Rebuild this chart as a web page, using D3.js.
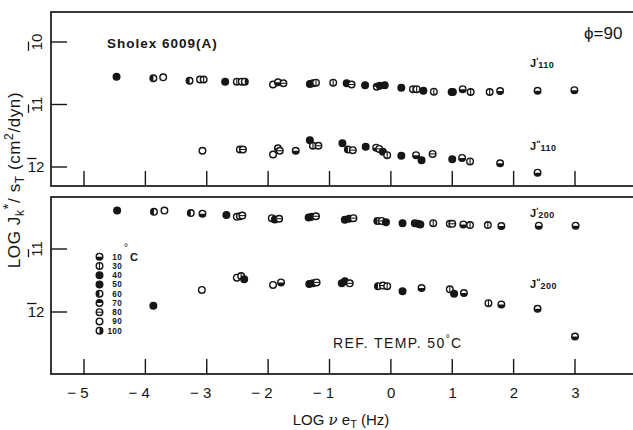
<!DOCTYPE html>
<html>
<head>
<meta charset="utf-8">
<script src="https://cdn.jsdelivr.net/npm/d3@7"></script>
<style>
  body { margin: 0; background: #fff; }
  svg { display: block; }
  text { font-family: "Liberation Sans", Arial, sans-serif; fill: #161616; }
</style>
</head>
<body>
<div id="chart"></div>
<script>
// log frequency ticks, legend temperatures (deg C)
const xTicks = [-5, -4, -3, -2, -1, 0, 1, 2, 3];
const temps = [10, 30, 40, 50, 60, 70, 80, 90, 100];

// [log nu*aT, log Jk*/aT, temperature]
const jp110 = [
  [-4.47, -10.555, 40], [-3.87, -10.58, 60], [-3.71, -10.565, 90],
  [-3.28, -10.62, 60], [-3.11, -10.60, 90], [-3.05, -10.60, 30],
  [-2.70, -10.635, 40], [-2.51, -10.635, 30], [-2.43, -10.635, 90], [-2.38, -10.635, 100],
  [-1.92, -10.68, 90], [-1.84, -10.645, 10], [-1.75, -10.66, 80],
  [-1.32, -10.67, 50], [-1.27, -10.66, 60], [-1.22, -10.65, 30],
  [-0.94, -10.65, 30], [-0.72, -10.66, 50], [-0.64, -10.68, 80],
  [-0.42, -10.69, 40], [-0.23, -10.715, 70], [-0.18, -10.70, 50], [-0.10, -10.69, 40],
  [0.17, -10.73, 50], [0.36, -10.755, 30], [0.42, -10.755, 30], [0.53, -10.78, 50],
  [0.70, -10.795, 30], [0.99, -10.80, 50], [1.01, -10.80, 40], [1.17, -10.755, 10],
  [1.30, -10.80, 30], [1.61, -10.80, 30], [1.78, -10.785, 10], [2.39, -10.78, 10], [2.99, -10.77, 10]
];
const jpp110 = [
  [-3.07, -11.74, 90], [-2.46, -11.72, 30], [-2.41, -11.72, 80],
  [-1.92, -11.80, 90], [-1.84, -11.70, 10], [-1.81, -11.74, 80], [-1.55, -11.74, 10],
  [-1.32, -11.57, 40], [-1.27, -11.66, 30], [-1.18, -11.66, 80],
  [-0.79, -11.62, 50], [-0.70, -11.72, 60], [-0.62, -11.73, 80],
  [-0.41, -11.675, 40], [-0.24, -11.69, 10], [-0.19, -11.71, 80], [-0.13, -11.755, 40], [-0.06, -11.81, 30],
  [0.17, -11.82, 50], [0.41, -11.81, 10], [0.50, -11.89, 40], [0.68, -11.79, 80],
  [1.00, -11.875, 50], [1.16, -11.855, 10], [1.29, -11.91, 30], [1.78, -11.94, 10], [2.39, -12.09, 10]
];
const jp200 = [
  [-4.46, -10.39, 40], [-3.86, -10.41, 60], [-3.69, -10.39, 90],
  [-3.26, -10.43, 60], [-3.07, -10.44, 10],
  [-2.68, -10.46, 40], [-2.51, -10.49, 90], [-2.46, -10.48, 30], [-2.42, -10.47, 80],
  [-1.94, -10.51, 90], [-1.89, -10.53, 50], [-1.82, -10.52, 80],
  [-1.34, -10.50, 50], [-1.29, -10.49, 40], [-1.22, -10.48, 80],
  [-0.75, -10.535, 50], [-0.68, -10.52, 40], [-0.61, -10.51, 80],
  [-0.22, -10.555, 60], [-0.15, -10.555, 80], [-0.08, -10.575, 40],
  [0.19, -10.59, 50], [0.39, -10.59, 60], [0.44, -10.60, 40], [0.48, -10.61, 50],
  [0.69, -10.59, 30], [0.96, -10.60, 30], [1.00, -10.60, 80], [1.18, -10.61, 10], [1.29, -10.62, 30],
  [1.58, -10.62, 30], [1.80, -10.635, 10], [2.41, -10.63, 10], [3.01, -10.63, 10]
];
const jpp200 = [
  [-3.87, -11.90, 40], [-3.08, -11.65, 90],
  [-2.51, -11.455, 90], [-2.44, -11.43, 30], [-2.39, -11.48, 50],
  [-1.92, -11.57, 90], [-1.79, -11.53, 10],
  [-1.33, -11.555, 40], [-1.27, -11.545, 50], [-1.21, -11.53, 80],
  [-0.80, -11.545, 50], [-0.75, -11.51, 40], [-0.67, -11.545, 80],
  [-0.21, -11.59, 60], [-0.13, -11.58, 80], [-0.06, -11.59, 30],
  [0.19, -11.67, 50], [0.50, -11.62, 10], [0.96, -11.64, 30], [1.03, -11.71, 40],
  [1.19, -11.70, 10], [1.59, -11.86, 30], [1.80, -11.88, 10], [2.39, -11.95, 10], [3.00, -12.39, 10]
];

const size = { width: 633, height: 430 };
const ink = "#161616";
const frameLeft = 51;

const x = d3.scaleLinear([-5, 3], [84, 575]);

const panels = [
  {
    top: 12, bottom: 186,
    y: d3.scaleLinear([-10, -12], [42, 167]),
    yTicks: [-10, -11, -12],
    series: [
      { data: jp110, prime: "\u02B9", sub: "110", ly: 67 },
      { data: jpp110, prime: "\u02BA", sub: "110", ly: 150 }
    ]
  },
  {
    top: 197, bottom: 374,
    y: d3.scaleLinear([-11, -12], [249, 312]),
    yTicks: [-11, -12],
    series: [
      { data: jp200, prime: "\u02B9", sub: "200", ly: 217 },
      { data: jpp200, prime: "\u02BA", sub: "200", ly: 288 }
    ]
  }
];

const markerKind = {
  10: "bottom", 30: "vline", 40: "full", 50: "full", 60: "left",
  70: "top", 80: "hline", 90: "open", 100: "right"
};

function drawMarker(g, cx, cy, t) {
  const r = 3.3;
  const kind = markerKind[t];
  const m = g.append("g").attr("transform", `translate(${cx},${cy})`);
  m.append("circle")
    .attr("r", r)
    .attr("fill", kind === "full" ? ink : "#fff")
    .attr("stroke", ink)
    .attr("stroke-width", 1.4);
  const half = {
    bottom: `M${-r},0A${r},${r} 0 0 0 ${r},0Z`,
    top: `M${-r},0A${r},${r} 0 0 1 ${r},0Z`,
    left: `M0,${-r}A${r},${r} 0 0 0 0,${r}Z`,
    right: `M0,${-r}A${r},${r} 0 0 1 0,${r}Z`
  };
  if (half[kind]) m.append("path").attr("d", half[kind]).attr("fill", ink);
  if (kind === "vline") m.append("line").attr("y1", -r).attr("y2", r).attr("stroke", ink).attr("stroke-width", 1.1);
  if (kind === "hline") m.append("line").attr("x1", -r).attr("x2", r).attr("stroke", ink).attr("stroke-width", 1.1);
}

// tick label like "1̄1": bar over the first digit
function barLabel(g, px, py, value, rotated) {
  const s = String(-value);
  const lg = g.append("g")
    .attr("transform", rotated ? `translate(${px},${py}) rotate(-90)` : `translate(${px},${py})`);
  const t = lg.append("text")
    .attr("text-anchor", "middle")
    .style("font-size", "15px")
    .text(s);
  const w = t.node().getComputedTextLength();
  const w1 = t.node().getSubStringLength(0, 1);
  lg.append("line")
    .attr("x1", -w / 2 - 0.5).attr("x2", -w / 2 + w1 + 0.5)
    .attr("y1", -13.5).attr("y2", -13.5)
    .attr("stroke", ink).attr("stroke-width", 1.3);
}

const svg = d3.select("#chart").append("svg")
  .attr("width", size.width)
  .attr("height", size.height);

panels.forEach((p) => {
  const g = svg.append("g");
  g.append("rect")
    .attr("x", frameLeft).attr("y", p.top)
    .attr("width", 620).attr("height", p.bottom - p.top)
    .attr("fill", "none").attr("stroke", ink).attr("stroke-width", 1.7);

  g.selectAll("line.xt").data(xTicks).join("line")
    .attr("class", "xt")
    .attr("x1", (d) => x(d)).attr("x2", (d) => x(d))
    .attr("y1", p.bottom).attr("y2", p.bottom - 15)
    .attr("stroke", ink).attr("stroke-width", 1.4);

  g.selectAll("line.yt").data(p.yTicks).join("line")
    .attr("class", "yt")
    .attr("x1", frameLeft).attr("x2", frameLeft + 16)
    .attr("y1", (d) => p.y(d)).attr("y2", (d) => p.y(d))
    .attr("stroke", ink).attr("stroke-width", 1.4);

  p.yTicks.forEach((v) => {
    const rotated = v !== -12;
    if (rotated) barLabel(g, 42, p.y(v), v, true);
    else barLabel(g, 36, p.y(v) + 5, v, false);
  });

  p.series.forEach((s) => {
    s.data.forEach(([f, j, t]) => drawMarker(g, x(f), p.y(j), t));
    const lab = g.append("text")
      .attr("x", 530).attr("y", s.ly)
      .style("font-size", "11px").style("font-weight", "bold");
    lab.append("tspan").text("J");
    lab.append("tspan").attr("dy", -3).style("font-size", "9px").text(s.prime);
    lab.append("tspan").attr("dy", 4).style("font-size", "9px").attr("letter-spacing", "0.5").text(s.sub);
  });
});

// x tick labels (bottom panel only), digits centred on the tick
svg.selectAll("text.xl").data(xTicks).join("text")
  .attr("class", "xl")
  .attr("x", (d) => x(d) + 4.5)
  .attr("y", 398)
  .attr("text-anchor", "end")
  .style("font-size", "15px")
  .text((d) => (d < 0 ? "\u2212 " + Math.abs(d) : String(d)));

// x axis title
const xt = svg.append("text")
  .attr("x", 341).attr("y", 425)
  .attr("text-anchor", "middle")
  .style("font-size", "15px");
xt.append("tspan").text("LOG  ");
xt.append("tspan").style("font-style", "italic").style("font-family", "DejaVu Serif, serif").text("\u03BD");
xt.append("tspan").text(" e");
xt.append("tspan").attr("dy", 3).style("font-size", "11px").text("T");
xt.append("tspan").attr("dy", -3).text(" (Hz)");

// y axis title
const yt = svg.append("text")
  .attr("transform", "translate(20,180) rotate(-90)")
  .attr("text-anchor", "middle")
  .attr("letter-spacing", "0.6")
  .style("font-size", "17px");
yt.append("tspan").text("LOG  J");
yt.append("tspan").attr("dy", 4).style("font-size", "12px").text("k");
yt.append("tspan").attr("dy", -11).style("font-size", "15px").text("*");
yt.append("tspan").attr("dy", 7).text("/ s");
yt.append("tspan").attr("dy", 4).style("font-size", "12px").text("T");
yt.append("tspan").attr("dy", -4).text("  (cm");
yt.append("tspan").attr("dy", -7).style("font-size", "12px").text("2");
yt.append("tspan").attr("dy", 7).text("/dyn)");

// annotations
svg.append("text")
  .attr("x", 107).attr("y", 48)
  .attr("letter-spacing", "1")
  .style("font-size", "13.5px").style("font-weight", "bold")
  .text("Sholex  6009(A)");

svg.append("text")
  .attr("x", 584).attr("y", 39)
  .style("font-size", "17px")
  .text("\u03D5=90");

const ref = svg.append("text")
  .attr("x", 333).attr("y", 348)
  .attr("letter-spacing", "1.4")
  .style("font-size", "14px");
ref.append("tspan").text("REF.  TEMP.  50");
ref.append("tspan").attr("dy", -6).style("font-size", "10px").text("\u00B0");
ref.append("tspan").attr("dy", 6).text("C");

// legend: markers, then the temperature labels stacked beside them
const legendTop = 256.7;
const legendStep = 9.25;
const legend = svg.append("g");
temps.forEach((t, i) => drawMarker(legend, 99.5, legendTop + i * legendStep, t));
legend.selectAll("text.lt").data(temps).join("text")
  .attr("class", "lt")
  .attr("x", 122)
  .attr("y", (d, i) => legendTop + i * legendStep + 3)
  .attr("text-anchor", "end")
  .attr("letter-spacing", "0.3")
  .style("font-size", "8.2px").style("font-weight", "bold")
  .text((d) => d);
const degC = legend.append("text").attr("x", 124).attr("y", 251).style("font-size", "10px");
degC.append("tspan").text("\u00B0");
degC.append("tspan").attr("x", 130).attr("y", 261).style("font-size", "11px").style("font-weight", "bold").text("C");
</script>
</body>
</html>
